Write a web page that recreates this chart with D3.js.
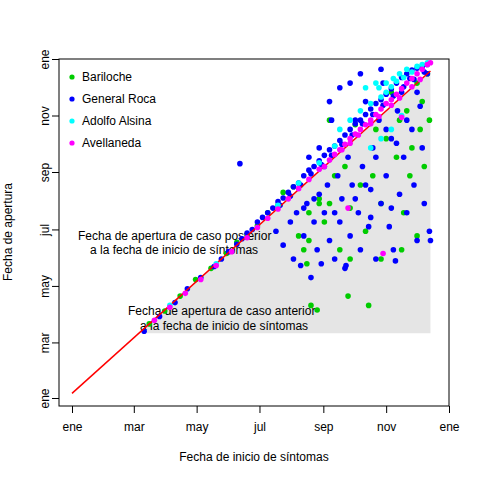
<!DOCTYPE html>
<html><head><meta charset="utf-8">
<script src="https://cdn.jsdelivr.net/npm/d3@7"></script>
<style>body{margin:0;background:#fff}text{font-family:"Liberation Sans",Arial,sans-serif;font-size:12px}</style>
</head><body><svg id="chart" width="480" height="480"></svg>
<script>
// days since 1 Jan 2020
const tickDays = [0, 60, 121, 182, 244, 305, 366];
const tickLabels = ["ene", "mar", "may", "jul", "sep", "nov", "ene"];
const seriesNames = ["Bariloche", "General Roca", "Adolfo Alsina", "Avellaneda"];
const seriesColors = ["#00cc00", "#0000ff", "#00ffff", "#ff00ff"];

// [onset day, opening day]
const bariloche = [[75,80],[90,94],[105,110],[120,128],[135,140],[150,156],[160,168],[170,176],[180,186],[190,200],[200,208],[205,222],[215,228],[220,175],[225,160],[228,145],[230,170],[232,100],[238,95],[240,210],[245,190],[250,300],[255,240],[260,160],[265,250],[268,110],[270,205],[275,295],[280,230],[285,180],[288,100],[292,240],[295,290],[300,210],[305,280],[310,330],[315,260],[318,300],[322,200],[325,310],[328,240],[330,270],[335,340],[338,290],[340,320],[342,250],[345,350],[347,300],[270,150],[240,215],[300,150],[230,200],[250,210],[335,175],[320,160]];
const generalRoca = [[70,72],[85,88],[100,103],[112,118],[125,130],[138,142],[145,150],[152,158],[160,166],[165,172],[170,178],[175,182],[180,190],[185,195],[190,200],[195,205],[200,212],[205,216],[210,222],[215,228],[220,232],[225,240],[230,246],[235,250],[240,256],[245,262],[250,268],[255,272],[260,278],[265,284],[270,290],[275,296],[280,300],[285,306],[290,312],[295,318],[300,322],[305,328],[310,334],[315,340],[320,346],[325,350],[330,354],[335,356],[340,358],[345,360],[163,253],[198,180],[205,165],[212,190],[215,150],[218,200],[222,143],[225,175],[228,210],[232,130],[235,190],[238,160],[240,220],[242,145],[245,200],[248,230],[250,170],[252,300],[255,150],[258,240],[260,190],[262,215],[265,140],[266,143],[268,260],[270,175],[272,230],[275,300],[278,200],[280,160],[282,250],[285,320],[288,185],[290,225],[292,270],[295,150],[298,300],[300,210],[302,340],[305,240],[308,185],[310,280],[312,160],[314,148],[316,310],[318,220],[320,330],[322,260],[325,200],[328,345],[330,290],[332,230],[335,170],[338,315],[340,270],[342,210],[345,350],[347,180],[348,170],[250,320],[260,335],[270,340],[240,270],[230,260],[280,350],[300,355],[255,200],[245,250],[235,215],[225,205],[285,230],[295,260],[305,290],[315,275],[325,300],[335,330],[310,205],[275,215],[290,195],[202,208],[212,218],[222,230],[232,242],[242,252],[252,262],[262,274],[272,284],[282,296],[292,306],[302,316],[312,326],[322,336],[332,344],[342,352]];
const adolfoAlsina = [[95,100],[140,145],[200,208],[220,232],[240,254],[255,272],[260,290],[270,300],[280,310],[285,335],[290,318],[295,340],[300,325],[305,330],[310,336],[312,345],[315,342],[318,350],[322,346],[325,355],[330,352],[335,358],[340,360],[345,362],[290,270],[300,280],[310,290],[320,305],[298,335],[305,340]];
const avellaneda = [[80,84],[95,98],[110,113],[125,128],[140,143],[155,158],[170,173],[180,184],[190,194],[200,204],[210,215],[220,226],[230,236],[240,247],[250,257],[255,263],[260,268],[265,274],[270,280],[275,285],[280,290],[285,295],[290,300],[295,306],[300,312],[305,318],[310,322],[315,328],[320,334],[325,340],[330,345],[335,350],[340,355],[345,360],[348,362],[270,275],[290,296],[310,316],[330,336],[268,205],[302,156],[320,303],[245,250],[262,268],[278,284],[298,304],[318,324],[338,344]];
const seriesData = [bariloche, generalRoca, adolfoAlsina, avellaneda];
const refLine = [[0, 5], [348, 353]];
const grayArea = [[70, 70], [348, 70], [348, 353], [70, 75]];

const svg = d3.select("#chart");
const x = d3.scaleLinear().domain([0, 366]).range([72, 449]);
const y = d3.scaleLinear().domain([0, 366]).range([398, 59]);

svg.append("path")
  .attr("d", d3.line().x(d => x(d[0])).y(d => y(d[1]))(grayArea) + "Z")
  .attr("fill", "#e5e5e5");

svg.append("text").attr("x", 78).attr("y", 240).text("Fecha de apertura de caso posterior");
svg.append("text").attr("x", 90).attr("y", 254).text("a la fecha de inicio de síntomas");
svg.append("text").attr("x", 128).attr("y", 315).text("Fecha de apertura de caso anterior");
svg.append("text").attr("x", 140).attr("y", 330).text("a la fecha de inicio de síntomas");

seriesData.forEach((data, i) => {
  svg.append("g").selectAll("circle").data(data).join("circle")
    .attr("cx", d => x(d[0])).attr("cy", d => y(d[1])).attr("r", 2.8)
    .attr("fill", seriesColors[i]);
  if (i === 1) {
    svg.append("path")
      .attr("d", d3.line().x(d => x(d[0])).y(d => y(d[1]))(refLine))
      .attr("stroke", "#ff0000").attr("stroke-width", 1.5);
  }
});

svg.append("rect").attr("x", 59).attr("y", 59).attr("width", 390).attr("height", 347)
  .attr("fill", "none").attr("stroke", "#000");

const xAxis = svg.append("g").attr("transform", "translate(0,406)")
  .call(d3.axisBottom(x).tickValues(tickDays).tickFormat((d, i) => tickLabels[i]).tickSize(7).tickPadding(9));
const yAxis = svg.append("g").attr("transform", "translate(59,0)")
  .call(d3.axisLeft(y).tickValues(tickDays).tickFormat((d, i) => tickLabels[i]).tickSize(7).tickPadding(9));
[xAxis, yAxis].forEach(a => {
  a.select(".domain").remove();
  a.selectAll("text").style("font-size", "12px").style("font-family", "Liberation Sans, Arial, sans-serif");
});
yAxis.selectAll(".tick text").attr("text-anchor", "middle")
  .attr("transform", "translate(-10,0) rotate(-90)")
  .attr("x", 0).attr("dy", "0");

svg.append("text").attr("x", 254).attr("y", 461).attr("text-anchor", "middle").text("Fecha de inicio de síntomas");
svg.append("text").attr("transform", "translate(12,232) rotate(-90)").attr("text-anchor", "middle").text("Fecha de apertura");

const legend = svg.append("g");
seriesNames.forEach((n, i) => {
  legend.append("circle").attr("cx", 72).attr("cy", 77 + i * 22).attr("r", 2.6).attr("fill", seriesColors[i]);
  legend.append("text").attr("x", 82).attr("y", 81 + i * 22).text(n);
});
</script></body></html>
